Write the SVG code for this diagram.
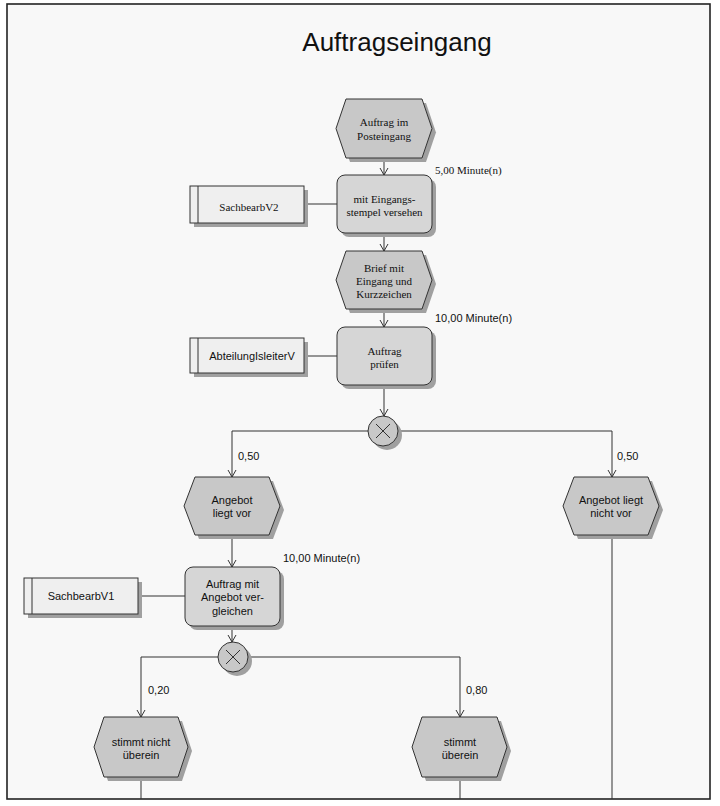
<svg xmlns="http://www.w3.org/2000/svg" width="720" height="806" viewBox="0 0 720 806">
<style>
.bg{fill:#f8f8f8;stroke:#222;stroke-width:1.6}
.sh{fill:#a0a0a0}
.ev{fill:#c8c8c8;stroke:#333;stroke-width:1}
.fn{fill:#d6d6d6;stroke:#333;stroke-width:1}
.org{fill:#efefef;stroke:#333;stroke-width:1}
.ln{fill:none;stroke:#333;stroke-width:1}
.s{font-family:"Liberation Sans",Arial,sans-serif;font-size:11px;fill:#111;text-anchor:middle}
.r{font-family:"Liberation Serif","Times New Roman",serif;font-size:11px;fill:#111;text-anchor:middle}
.sl{font-family:"Liberation Sans",Arial,sans-serif;font-size:11px;fill:#111}
.rl{font-family:"Liberation Serif","Times New Roman",serif;font-size:11px;fill:#111}
</style>
<defs>
<marker id="arr" markerUnits="userSpaceOnUse" markerWidth="10" markerHeight="10" viewBox="0 0 10 10" refX="9" refY="5" orient="auto">
<path d="M2,1 L9,5 L2,9" fill="none" stroke="#333" stroke-width="1"/>
</marker>
</defs>
<rect x="0" y="0" width="720" height="806" fill="#ffffff"/>
<rect class="bg" x="7" y="4" width="703" height="795"/>
<text x="397" y="51" style="font-family:'Liberation Sans',Arial,sans-serif;font-size:26px;fill:#111;text-anchor:middle">Auftragseingang</text>

<g id="connectors">
<path class="ln" d="M384,158 V175" marker-end="url(#arr)"/>
<path class="ln" d="M384,233 V251" marker-end="url(#arr)"/>
<path class="ln" d="M384,309 V327" marker-end="url(#arr)"/>
<path class="ln" d="M384,385 V416" marker-end="url(#arr)"/>
<path class="ln" d="M369,431 H232 V477" marker-end="url(#arr)"/>
<path class="ln" d="M399,431 H612 V477" marker-end="url(#arr)"/>
<path class="ln" d="M232,535 V567" marker-end="url(#arr)"/>
<path class="ln" d="M232,626 V642" marker-end="url(#arr)"/>
<path class="ln" d="M218,657 H141 V717" marker-end="url(#arr)"/>
<path class="ln" d="M248,657 H460 V717" marker-end="url(#arr)"/>
<path class="ln" d="M141,777 V799"/>
<path class="ln" d="M460,777 V799"/>
<path class="ln" d="M612,535 V799"/>
<path class="ln" d="M304,204 H337"/>
<path class="ln" d="M304,356 H337"/>
<path class="ln" d="M138,596 H185"/>
<text class="rl" x="435" y="174">5,00 Minute(n)</text>
<text class="sl" x="435" y="322">10,00 Minute(n)</text>
<text class="sl" x="283" y="562">10,00 Minute(n)</text>
<text class="sl" x="238" y="460">0,50</text>
<text class="sl" x="617" y="460">0,50</text>
<text class="sl" x="148" y="694">0,20</text>
<text class="sl" x="466" y="694">0,80</text>
</g>

<g id="ev1">
<polygon class="sh" points="340,132.5 350,103 426,103 436,132.5 426,162 350,162"/>
<polygon class="ev" points="336,128.5 346,99 422,99 432,128.5 422,158 346,158"/>
<text class="r" x="384" y="126">Auftrag im</text>
<text class="r" x="384" y="140">Posteingang</text>
</g>

<g id="fn1">
<rect class="sh" x="341" y="179" width="95" height="58" rx="8"/>
<rect class="fn" x="337" y="175" width="95" height="58" rx="8"/>
<text class="r" x="384.5" y="203">mit Eingangs-</text>
<text class="r" x="384.5" y="216">stempel versehen</text>
</g>

<g id="org1">
<rect class="sh" x="194" y="190" width="114" height="37"/>
<rect class="org" x="190" y="186" width="114" height="37"/>
<line class="ln" x1="198" y1="186" x2="198" y2="223"/>
<text class="r" x="249" y="211">SachbearbV2</text>
</g>

<g id="ev2">
<polygon class="sh" points="340,284 350,255 426,255 436,284 426,313 350,313"/>
<polygon class="ev" points="336,280 346,251 422,251 432,280 422,309 346,309"/>
<text class="r" x="384" y="272">Brief mit</text>
<text class="r" x="384" y="285">Eingang und</text>
<text class="r" x="384" y="298">Kurzzeichen</text>
</g>

<g id="fn2">
<rect class="sh" x="341" y="331" width="95" height="58" rx="8"/>
<rect class="fn" x="337" y="327" width="95" height="58" rx="8"/>
<text class="r" x="384.5" y="355">Auftrag</text>
<text class="r" x="384.5" y="368">prüfen</text>
</g>

<g id="org2">
<rect class="sh" x="194" y="342" width="114" height="35"/>
<rect class="org" x="190" y="338" width="114" height="35"/>
<line class="ln" x1="198" y1="338" x2="198" y2="373"/>
<text class="s" x="252" y="360">AbteilungIsleiterV</text>
</g>

<g id="xor1">
<circle class="sh" cx="387" cy="435" r="15"/>
<circle class="ev" cx="383" cy="431" r="15"/>
<path class="ln" d="M376,424 L390,438 M390,424 L376,438"/>
</g>

<g id="ev3">
<polygon class="sh" points="188,510 199,481 273,481 284,510 273,539 199,539"/>
<polygon class="ev" points="184,506 195,477 269,477 280,506 269,535 195,535"/>
<text class="s" x="232" y="504">Angebot</text>
<text class="s" x="232" y="517">liegt vor</text>
</g>

<g id="ev4">
<polygon class="sh" points="567,510 578,481 652,481 663,510 652,539 578,539"/>
<polygon class="ev" points="563,506 574,477 648,477 659,506 648,535 574,535"/>
<text class="s" x="611" y="504">Angebot liegt</text>
<text class="s" x="611" y="517">nicht vor</text>
</g>

<g id="fn3">
<rect class="sh" x="189" y="571" width="95" height="59" rx="8"/>
<rect class="fn" x="185" y="567" width="95" height="59" rx="8"/>
<text class="s" x="232.5" y="588">Auftrag mit</text>
<text class="s" x="232.5" y="601">Angebot ver-</text>
<text class="s" x="232.5" y="615">gleichen</text>
</g>

<g id="org3">
<rect class="sh" x="28" y="582" width="114" height="36"/>
<rect class="org" x="24" y="578" width="114" height="36"/>
<line class="ln" x1="32" y1="578" x2="32" y2="614"/>
<text class="s" x="81" y="600">SachbearbV1</text>
</g>

<g id="xor2">
<circle class="sh" cx="237" cy="661" r="15"/>
<circle class="ev" cx="233" cy="657" r="15"/>
<path class="ln" d="M226,650 L240,664 M240,650 L226,664"/>
</g>

<g id="ev5">
<polygon class="sh" points="98,751 108,721 182,721 192,751 182,781 108,781"/>
<polygon class="ev" points="94,747 104,717 178,717 188,747 178,777 104,777"/>
<text class="s" x="141" y="746">stimmt nicht</text>
<text class="s" x="141" y="759">überein</text>
</g>

<g id="ev6">
<polygon class="sh" points="416,751 426,721 501,721 511,751 501,781 426,781"/>
<polygon class="ev" points="412,747 422,717 497,717 507,747 497,777 422,777"/>
<text class="s" x="460" y="746">stimmt</text>
<text class="s" x="460" y="759">überein</text>
</g>
</svg>
